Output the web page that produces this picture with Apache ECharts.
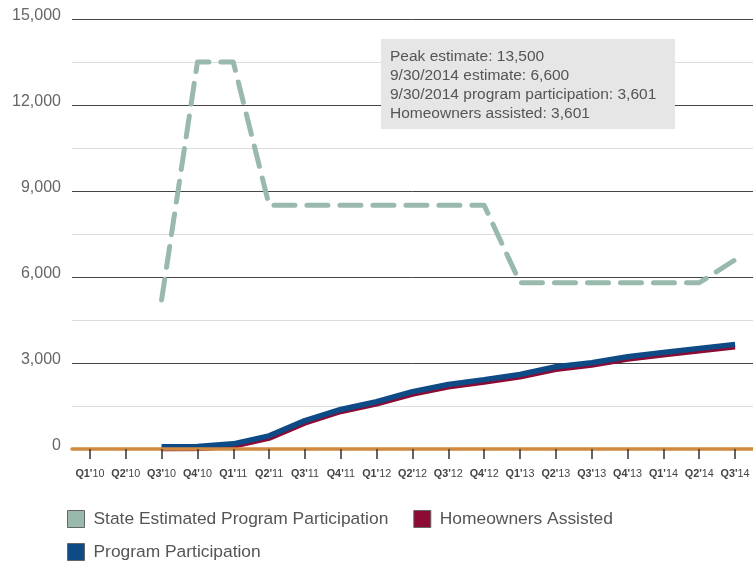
<!DOCTYPE html>
<html>
<head>
<meta charset="utf-8">
<script src="https://cdn.jsdelivr.net/npm/echarts@6/dist/echarts.min.js"></script>
<style>
html,body{margin:0;padding:0;background:#fff;}
#chart{width:753px;height:563px;}
</style>
</head>
<body>
<div id="chart"></div>
<script>
const categories = ["Q1'10","Q2'10","Q3'10","Q4'10","Q1'11","Q2'11","Q3'11","Q4'11","Q1'12","Q2'12","Q3'12","Q4'12","Q1'13","Q2'13","Q3'13","Q4'13","Q1'14","Q2'14","Q3'14"];
const stateEstimated = [null,null,5200,13500,13500,8500,8500,8500,8500,8500,8500,8500,5800,5800,5800,5800,5800,5800,6600];
const homeownersAssisted = [null,null,0,10,90,370,900,1300,1570,1910,2160,2330,2510,2770,2920,3130,3280,3420,3560];
const programParticipation = [null,null,80,90,180,460,990,1380,1650,2000,2250,2420,2600,2870,3010,3220,3370,3510,3650];
const yTickValues = [0,3000,6000,9000,12000,15000];
const yTickLabels = ['0','3,000','6,000','9,000','12,000','15,000'];
const annotationLines = ['Peak estimate: 13,500','9/30/2014 estimate: 6,600','9/30/2014 program participation: 3,601','Homeowners assisted: 3,601'];
const seriesNames = ['State Estimated Program Participation','Homeowners Assisted','Program Participation'];

const FONT = '"Liberation Sans", Arial, sans-serif';
const chart = echarts.init(document.getElementById('chart'), null, {renderer:'canvas'});
const option = {
  animation: false,
  backgroundColor: '#fff',
  grid: {left: 72, top: 19, width: 684, height: 430, containLabel: false},
  legend: [
    {
      data: [seriesNames[0], seriesNames[1]],
      left: 67, top: 510, padding: 0,
      icon: 'rect', itemWidth: 17, itemHeight: 17, itemGap: 25,
      itemStyle: {borderColor: '#666', borderWidth: 1},
      textStyle: {color: '#555', fontSize: 17.4, fontFamily: FONT, padding: [0,0,0,4]}
    },
    {
      data: [seriesNames[2]],
      left: 67, top: 543, padding: 0,
      icon: 'rect', itemWidth: 17, itemHeight: 17,
      itemStyle: {borderColor: '#666', borderWidth: 1},
      textStyle: {color: '#555', fontSize: 17.4, fontFamily: FONT, padding: [0,0,0,4]}
    }
  ],
  xAxis: {
    type: 'category',
    data: categories,
    boundaryGap: true,
    axisLine: {show: true, lineStyle: {color: '#cf8a40', width: 3.5}},
    axisTick: {show: true, alignWithLabel: true, length: 10, lineStyle: {color: '#333', width: 1.5}},
    axisLabel: {
      interval: 0, margin: 20, fontSize: 10.8, fontFamily: FONT, color: '#444',
      formatter: function (v) {
        const i = v.indexOf("'");
        return '{b|' + v.slice(0, i + 1) + '}{n|' + v.slice(i + 1) + '}';
      },
      rich: {
        b: {fontWeight: 'bold', fontSize: 10.8, fontFamily: FONT, color: '#444'},
        n: {fontSize: 10.8, fontFamily: FONT, color: '#444'}
      }
    },
    splitLine: {show: false},
    z: 10
  },
  yAxis: {
    type: 'value',
    min: 0, max: 15000, interval: 1500,
    axisLine: {show: false},
    axisTick: {show: false},
    axisLabel: {
      margin: 11, fontSize: 16, fontFamily: FONT, color: '#666',
      verticalAlign: 'bottom', lineHeight: 7,
      formatter: function (v) {
        const i = yTickValues.indexOf(v);
        return i >= 0 ? yTickLabels[i] : '';
      }
    },
    splitLine: {show: true, lineStyle: {color: ['#444', '#dcdcdc'], width: 1}}
  },
  graphic: [
    {
      type: 'rect', z: 100,
      shape: {x: 381, y: 39, width: 294, height: 90},
      style: {fill: '#e6e6e6'}
    },
    {
      type: 'text', z: 101,
      x: 390, y: 47,
      style: {
        text: annotationLines.join('\n'),
        fontSize: 15.5, fontFamily: FONT, fill: '#555',
        lineHeight: 19, verticalAlign: 'top', align: 'left'
      }
    }
  ],
  series: [
    {
      name: seriesNames[0], type: 'line', data: stateEstimated,
      symbol: 'none', z: 3,
      itemStyle: {color: '#99b9ac'},
      lineStyle: {color: '#99b9ac', width: 5, type: [21, 12], cap: 'round', join: 'round'}
    },
    {
      name: seriesNames[1], type: 'line', data: homeownersAssisted,
      symbol: 'none', z: 4,
      itemStyle: {color: '#8c0a33'},
      lineStyle: {color: '#8c0a33', width: 5}
    },
    {
      name: seriesNames[2], type: 'line', data: programParticipation,
      symbol: 'none', z: 5,
      itemStyle: {color: '#0d4a86'},
      lineStyle: {color: '#0d4a86', width: 5.5}
    }
  ]
};
chart.setOption(option);
</script>
</body>
</html>
